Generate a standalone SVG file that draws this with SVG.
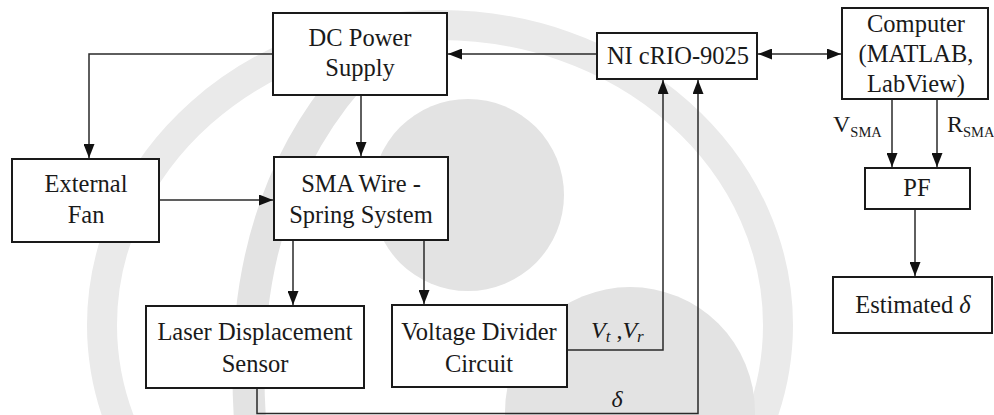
<svg xmlns="http://www.w3.org/2000/svg" width="994" height="415" viewBox="0 0 994 415">
<style>
.box{fill:#fff;stroke:#1a1a1a;stroke-width:2}
.conn{fill:none;stroke:#2a2a2a;stroke-width:1.5}
text{font-family:"Liberation Serif","Times New Roman",serif;fill:#1a1a1a}
.t{font-size:24.5px;text-anchor:middle}
.m{font-size:24px;font-style:italic}
.s{font-size:24px}
.wm{fill:#e3e3e3}
</style>
<defs>
<marker id="ah" viewBox="0 0 14 11" refX="14" refY="5.5" markerWidth="14" markerHeight="11" markerUnits="userSpaceOnUse" orient="auto-start-reverse">
<path d="M0,0 L14,5.5 L0,11 z" fill="#111"/>
</marker>
</defs>
<rect width="994" height="415" fill="#fff"/>
<g id="watermark">
<ellipse cx="440" cy="325" rx="338" ry="300" fill="none" stroke="#eaeaea" stroke-width="30"/>
<path d="M250,420 Q236,210 350,78" fill="none" stroke="#e3e3e3" stroke-width="32"/>
<circle class="wm" cx="468" cy="195" r="96"/>
<circle class="wm" cx="630" cy="412" r="125"/>
</g>
<g id="connectors">
<path class="conn" d="M597,54 H448" marker-end="url(#ah)"/>
<path class="conn" d="M758,54 H841" marker-start="url(#ah)" marker-end="url(#ah)"/>
<path class="conn" d="M273,54 H89 V158" marker-end="url(#ah)"/>
<path class="conn" d="M361,95 V156" marker-end="url(#ah)"/>
<path class="conn" d="M159,200 H273" marker-end="url(#ah)"/>
<path class="conn" d="M293,240 V305" marker-end="url(#ah)"/>
<path class="conn" d="M424,240 V304" marker-end="url(#ah)"/>
<path class="conn" d="M567,350 H663 V80" marker-end="url(#ah)"/>
<path class="conn" d="M257,388 V413.5 H698 V80" marker-end="url(#ah)"/>
<path class="conn" d="M892,99 V167" marker-end="url(#ah)"/>
<path class="conn" d="M937,99 V167" marker-end="url(#ah)"/>
<path class="conn" d="M915,209 V276" marker-end="url(#ah)"/>
<text class="m" x="591" y="338">V<tspan dy="4" font-size="17">t</tspan><tspan dy="-4" font-style="normal"> ,</tspan>V<tspan dy="4" font-size="17">r</tspan></text>
<text class="m" x="617" y="407" text-anchor="middle">δ</text>
<text class="s" x="833" y="132">V<tspan dy="5" font-size="14.5">SMA</tspan></text>
<text class="s" x="947" y="132">R<tspan dy="5" font-size="14.5">SMA</tspan></text>
</g>
<g id="dc-power">
<rect class="box" x="273" y="13" width="174" height="82"/>
<text class="t" x="360" y="46">DC Power</text>
<text class="t" x="360" y="76">Supply</text>
</g>
<g id="external-fan">
<rect class="box" x="12" y="159" width="147" height="83"/>
<text class="t" x="86" y="192">External</text>
<text class="t" x="86" y="223">Fan</text>
</g>
<g id="sma-wire">
<rect class="box" x="274" y="157" width="174" height="83"/>
<text class="t" x="361" y="192">SMA Wire -</text>
<text class="t" x="361" y="223">Spring System</text>
</g>
<g id="laser-sensor">
<rect class="box" x="146" y="306" width="218" height="82"/>
<text class="t" x="255" y="340">Laser Displacement</text>
<text class="t" x="255" y="372">Sensor</text>
</g>
<g id="voltage-divider">
<rect class="box" x="392" y="305" width="175" height="82"/>
<text class="t" x="479" y="340">Voltage Divider</text>
<text class="t" x="479" y="372">Circuit</text>
</g>
<g id="ni-crio">
<rect class="box" x="597" y="33" width="160" height="46"/>
<text class="t" x="678" y="63.5">NI cRIO-9025</text>
</g>
<g id="computer">
<rect class="box" x="842" y="8" width="146" height="91"/>
<text class="t" x="916" y="32">Computer</text>
<text class="t" x="916" y="62">(MATLAB,</text>
<text class="t" x="916" y="92">LabView)</text>
</g>
<g id="pf">
<rect class="box" x="865" y="168" width="105" height="41"/>
<text class="t" x="917" y="196">PF</text>
</g>
<g id="estimated">
<rect class="box" x="833" y="277" width="159" height="56"/>
<text class="t" x="913" y="312.5">Estimated <tspan font-style="italic">δ</tspan></text>
</g>
</svg>
